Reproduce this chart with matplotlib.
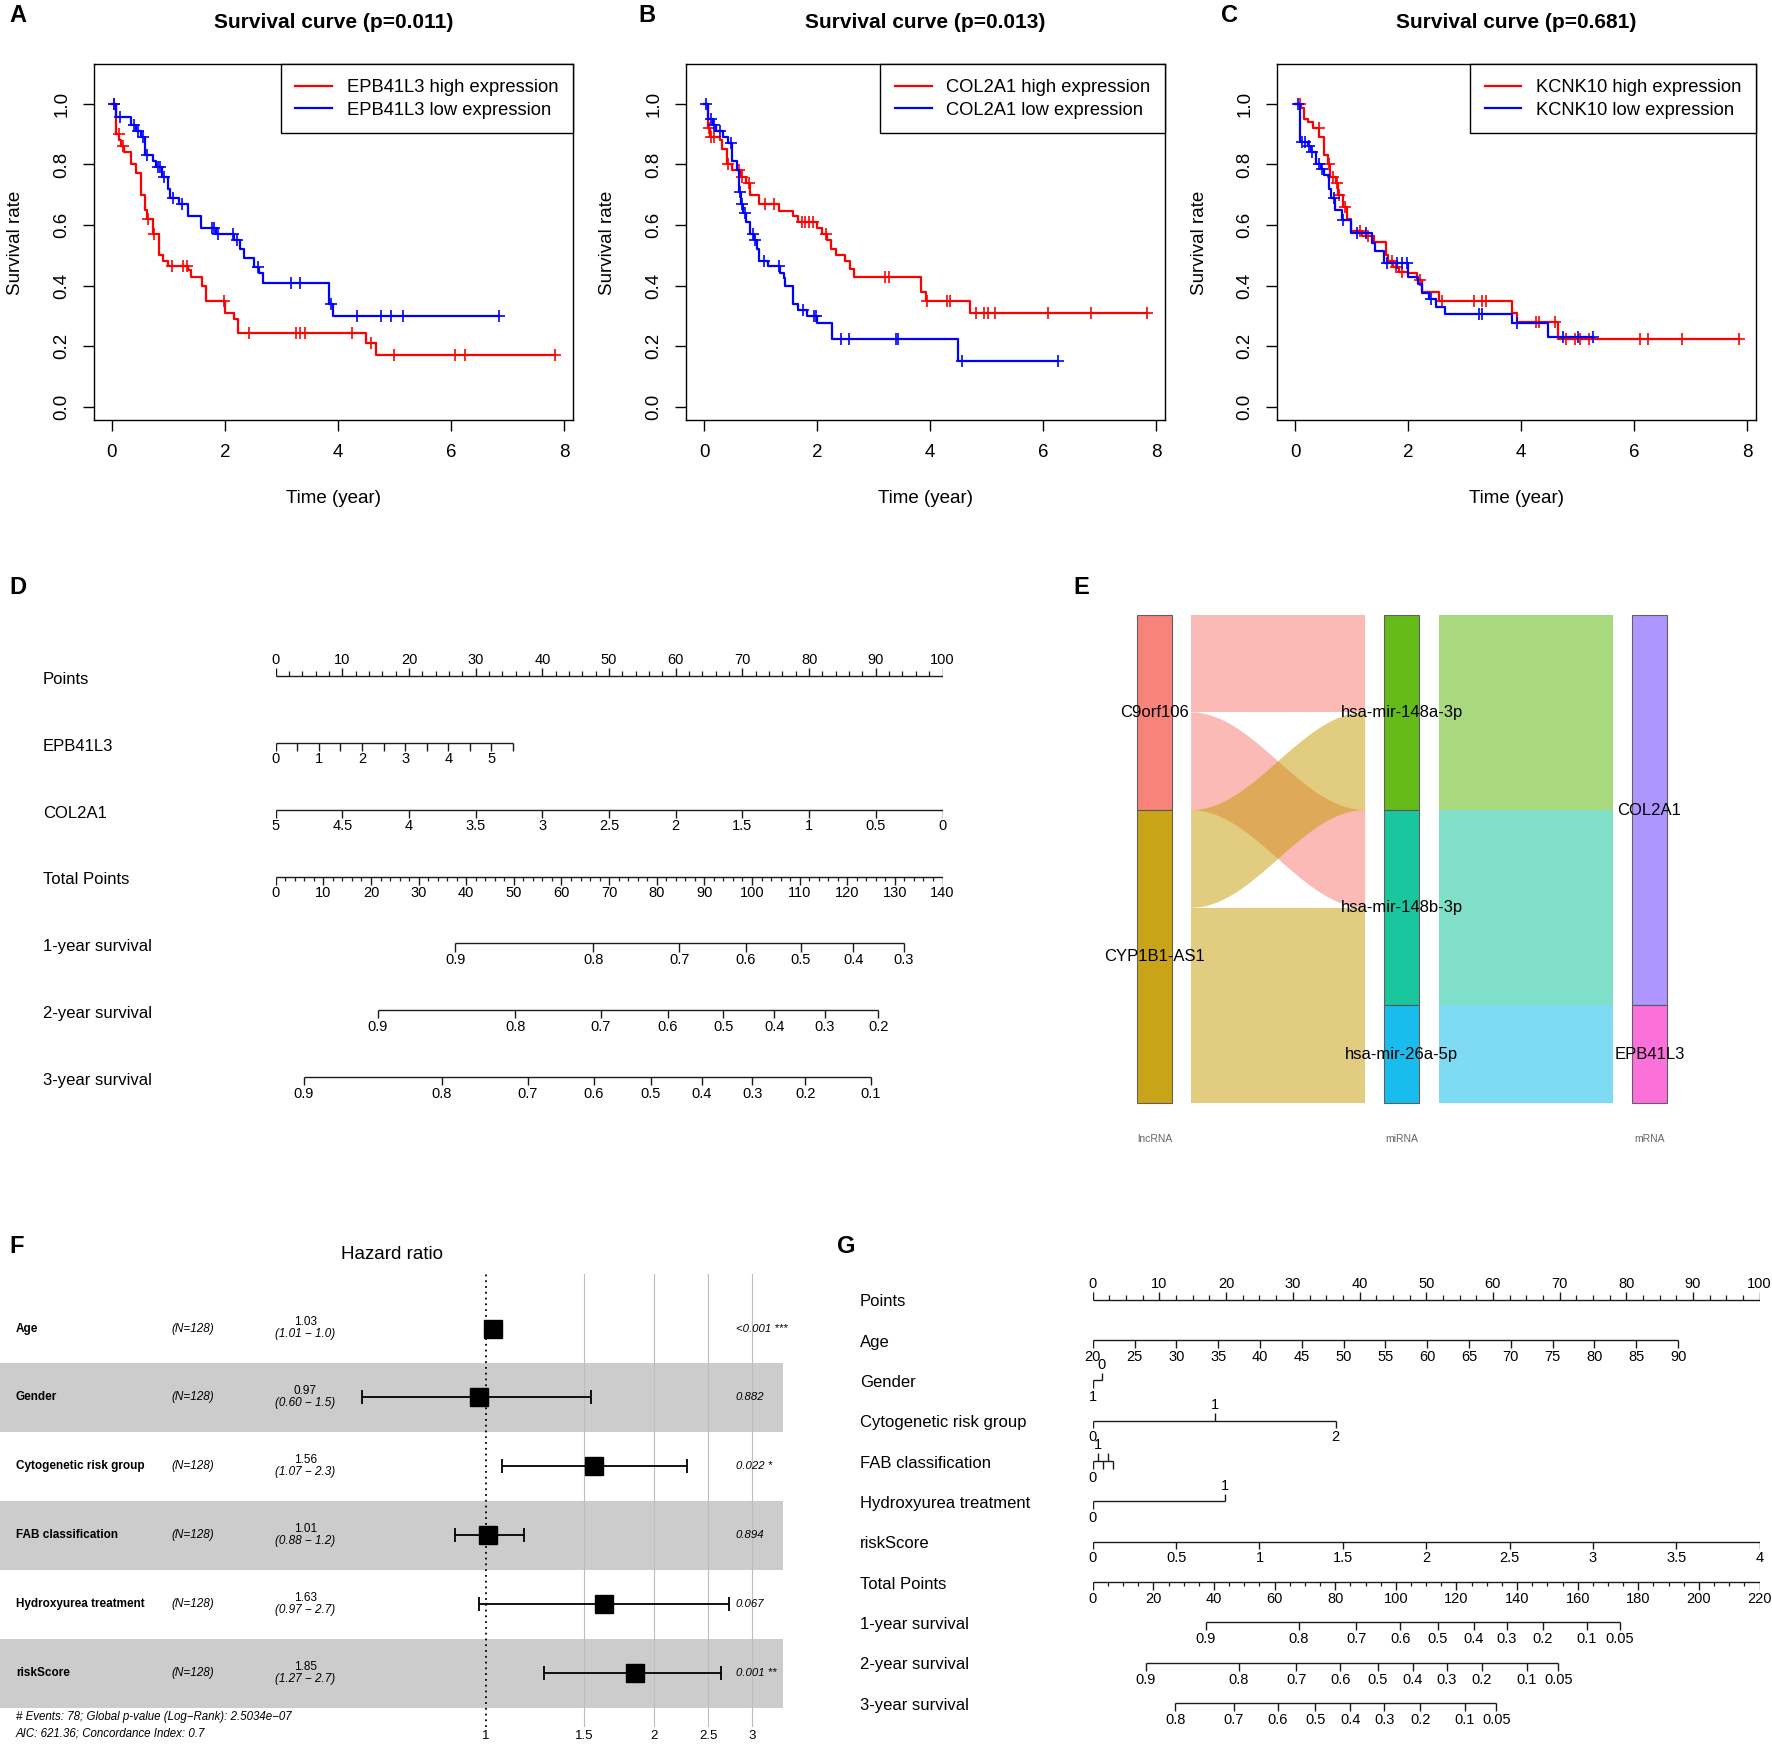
import numpy as np
import matplotlib.pyplot as plt
import matplotlib.transforms as mtransforms
from matplotlib.ticker import NullLocator, NullFormatter

plt.rcParams['font.family'] = ['Liberation Sans', 'DejaVu Sans']

# ---------------- survival curves (time in years, survival after each drop) ----------------
# A: EPB41L3
a_hi_t = [0, 0.07, 0.13, 0.17, 0.22, 0.34, 0.43, 0.51, 0.59, 0.63, 0.73, 0.83, 0.90, 0.99, 1.34, 1.40,
          1.59, 1.67, 2.00, 2.17, 2.24, 4.50, 4.67, 7.85]
a_hi_s = [1.0, 0.90, 0.88, 0.86, 0.84, 0.80, 0.77, 0.70, 0.65, 0.62, 0.57, 0.50, 0.48, 0.465, 0.45, 0.43,
          0.40, 0.35, 0.31, 0.29, 0.245, 0.21, 0.17, 0.17]
a_hi_c = [0.04, 0.12, 0.20, 0.64, 0.75, 1.07, 1.25, 1.33, 1.98, 2.42, 3.25, 3.33, 3.41, 4.25, 4.59,
          5.0, 6.08, 6.25, 7.85]
a_lo_t = [0, 0.07, 0.34, 0.43, 0.51, 0.59, 0.72, 0.78, 0.89, 1.00, 1.03, 1.19, 1.34, 1.58, 1.84, 2.17,
          2.26, 2.34, 2.52, 2.61, 2.67, 3.84, 3.91, 6.85]
a_lo_s = [1.0, 0.955, 0.93, 0.91, 0.89, 0.83, 0.81, 0.79, 0.76, 0.72, 0.69, 0.67, 0.63, 0.59, 0.57, 0.55,
          0.52, 0.49, 0.46, 0.44, 0.41, 0.34, 0.30, 0.30]
a_lo_c = [0.04, 0.14, 0.39, 0.46, 0.55, 0.62, 0.82, 0.86, 0.93, 1.08, 1.24, 1.77, 1.81, 1.88, 2.14,
          2.22, 2.59, 3.17, 3.33, 3.87, 4.34, 4.76, 4.94, 5.16, 6.85]

# B: COL2A1
b_hi_t = [0, 0.07, 0.10, 0.28, 0.31, 0.40, 0.49, 0.66, 0.75, 0.81, 0.98, 1.32, 1.58, 1.67, 2.00, 2.09,
          2.18, 2.25, 2.34, 2.50, 2.59, 2.65, 3.84, 3.93, 4.70, 7.84]
b_hi_s = [1.0, 0.92, 0.89, 0.88, 0.85, 0.80, 0.78, 0.76, 0.74, 0.70, 0.67, 0.645, 0.63, 0.61, 0.59, 0.57,
          0.55, 0.52, 0.50, 0.48, 0.455, 0.43, 0.38, 0.35, 0.31, 0.31]
b_hi_c = [0.09, 0.13, 0.17, 0.42, 0.62, 0.68, 0.79, 1.07, 1.23, 1.73, 1.79, 1.86, 1.92, 2.15, 3.21,
          3.27, 3.95, 4.30, 4.35, 4.82, 4.95, 5.02, 5.15, 6.09, 6.85, 7.84]
b_lo_t = [0, 0.07, 0.16, 0.22, 0.34, 0.43, 0.50, 0.58, 0.61, 0.66, 0.69, 0.75, 0.81, 0.88, 0.93, 0.98,
          1.14, 1.35, 1.41, 1.44, 1.58, 1.67, 1.82, 2.00, 2.26, 4.50, 6.27]
b_lo_s = [1.0, 0.95, 0.93, 0.91, 0.89, 0.87, 0.81, 0.78, 0.71, 0.67, 0.64, 0.61, 0.57, 0.55, 0.52, 0.48,
          0.465, 0.44, 0.425, 0.40, 0.34, 0.32, 0.30, 0.275, 0.225, 0.15, 0.15]
b_lo_c = [0.04, 0.12, 0.18, 0.28, 0.47, 0.64, 0.68, 0.72, 0.86, 0.90, 1.06, 1.33, 1.75, 1.95, 1.99,
          2.42, 2.57, 3.39, 3.43, 4.57, 6.27]

# C: KCNK10
c_hi_t = [0, 0.11, 0.155, 0.23, 0.32, 0.43, 0.51, 0.58, 0.61, 0.73, 0.76, 0.84, 0.91, 0.99, 1.18, 1.39,
          1.60, 1.65, 1.74, 1.83, 2.00, 2.16, 2.25, 2.55, 3.84, 3.92, 4.66, 7.85]
c_hi_s = [1.0, 0.985, 0.95, 0.94, 0.92, 0.89, 0.83, 0.80, 0.76, 0.74, 0.70, 0.66, 0.62, 0.58, 0.565, 0.545,
          0.50, 0.48, 0.46, 0.445, 0.44, 0.42, 0.38, 0.35, 0.31, 0.28, 0.225, 0.225]
c_hi_c = [0.08, 0.42, 0.60, 0.67, 0.74, 0.78, 0.88, 1.15, 1.29, 1.72, 1.78, 1.90, 2.21, 2.60, 3.17,
          3.30, 3.37, 4.26, 4.32, 4.60, 4.80, 4.95, 5.05, 5.20, 6.10, 6.25, 6.85, 7.85]
c_lo_t = [0, 0.08, 0.23, 0.29, 0.375, 0.46, 0.52, 0.60, 0.63, 0.70, 0.83, 0.99, 1.36, 1.42, 1.58, 2.00,
          2.18, 2.25, 2.37, 2.49, 2.65, 3.83, 4.48, 5.28]
c_lo_s = [1.0, 0.875, 0.86, 0.84, 0.80, 0.785, 0.765, 0.72, 0.69, 0.65, 0.615, 0.575, 0.54, 0.515, 0.475,
          0.43, 0.405, 0.375, 0.355, 0.33, 0.305, 0.275, 0.23, 0.23]
c_lo_c = [0.05, 0.13, 0.17, 0.24, 0.30, 0.43, 0.48, 0.68, 0.85, 1.10, 1.26, 1.62, 1.80, 1.90, 1.98,
          2.40, 3.25, 3.30, 3.92, 4.75, 5.00, 5.28]

km_genes = ['EPB41L3', 'COL2A1', 'KCNK10']
km_pvals = ['0.011', '0.013', '0.681']

# ---------------- nomogram D ----------------
d_epb_vals = [0, 0.5, 1, 1.5, 2, 2.5, 3, 3.5, 4, 4.5, 5, 5.5]
d_epb_pts_per_unit = 6.47
d_col_vals = [5, 4.5, 4, 3.5, 3, 2.5, 2, 1.5, 1, 0.5, 0]
d_col_pts_per_unit = 20.0
d_total_max = 140
d_surv1 = [0.9, 0.8, 0.7, 0.6, 0.5, 0.4, 0.3]
d_surv1_tp = [37.7, 66.7, 84.7, 98.7, 110.3, 121.3, 131.9]
d_surv2 = [0.9, 0.8, 0.7, 0.6, 0.5, 0.4, 0.3, 0.2]
d_surv2_tp = [21.4, 50.3, 68.3, 82.3, 94.0, 104.7, 115.3, 126.5]
d_surv3 = [0.9, 0.8, 0.7, 0.6, 0.5, 0.4, 0.3, 0.2, 0.1]
d_surv3_tp = [5.9, 34.9, 52.9, 66.8, 78.7, 89.4, 100.1, 111.2, 124.9]

# ---------------- sankey E ----------------
lnc_order = ['C9orf106', 'CYP1B1-AS1']
mir_order = ['hsa-mir-148a-3p', 'hsa-mir-148b-3p', 'hsa-mir-26a-5p']
mrna_order = ['COL2A1', 'EPB41L3']
link_lnc = ['C9orf106', 'C9orf106', 'CYP1B1-AS1', 'CYP1B1-AS1', 'CYP1B1-AS1']
link_mir = ['hsa-mir-148a-3p', 'hsa-mir-148b-3p', 'hsa-mir-148a-3p', 'hsa-mir-148b-3p', 'hsa-mir-26a-5p']
link_mrna = ['COL2A1', 'COL2A1', 'COL2A1', 'COL2A1', 'EPB41L3']
hue7 = ['#F8766D', '#C49A00', '#53B400', '#00C094', '#00B6EB', '#A58AFF', '#FB61D7']

# ---------------- forest F ----------------
f_vars = ['Age', 'Gender', 'Cytogenetic risk group', 'FAB classification', 'Hydroxyurea treatment', 'riskScore']
f_n = [128, 128, 128, 128, 128, 128]
f_hr = [1.03, 0.97, 1.56, 1.01, 1.63, 1.85]
f_lo = [1.01, 0.60, 1.07, 0.88, 0.97, 1.27]
f_hi = [1.05, 1.54, 2.29, 1.17, 2.72, 2.64]
f_ci_txt = ['(1.01 − 1.0)', '(0.60 − 1.5)', '(1.07 − 2.3)', '(0.88 − 1.2)', '(0.97 − 2.7)', '(1.27 − 2.7)']
f_p = ['<0.001 ***', '0.882', '0.022 *', '0.894', '0.067', '0.001 **']
f_events, f_global_p, f_aic, f_cindex = 78, '2.5034e−07', 621.36, 0.7

# ---------------- nomogram G ----------------
g_age_vals = [20, 25, 30, 35, 40, 45, 50, 55, 60, 65, 70, 75, 80, 85, 90]
g_age_pts_per_year = 1.254
g_gender_vals, g_gender_pts = [0, 1], [1.36, 0]
g_cyto_vals, g_cyto_pts = [0, 1, 2], [0, 18.3, 36.4]
g_fab_vals, g_fab_pts = [0, 1, 2, 3, 4], [0, 0.76, 1.52, 2.28, 3.04]
g_hu_vals, g_hu_pts = [0, 1], [0, 19.8]
g_risk_vals = [0, 0.5, 1, 1.5, 2, 2.5, 3, 3.5, 4]
g_risk_pts_per_unit = 25.0
g_total_max = 220
g_surv12 = [0.9, 0.8, 0.7, 0.6, 0.5, 0.4, 0.3, 0.2, 0.1, 0.05]
g_surv1_tp = [37.3, 67.9, 86.9, 101.4, 113.8, 125.7, 136.5, 148.5, 163.0, 173.8]
g_surv2_tp = [17.5, 48.1, 67.1, 81.7, 94.0, 105.6, 116.8, 128.3, 143.2, 153.6]
g_surv3 = [0.8, 0.7, 0.6, 0.5, 0.4, 0.3, 0.2, 0.1, 0.05]
g_surv3_tp = [27.2, 46.6, 61.1, 73.4, 85.0, 96.2, 108.1, 122.7, 133.1]

# ---------------- layout helpers ----------------
W, H = 1568.0, 1544.0
fig = plt.figure(figsize=(17.72, 17.45), dpi=100)


def frame(x0, y0, x1, y1):
    return [x0 / W, 1 - y1 / H, (x1 - x0) / W, (y1 - y0) / H]


def ftext(x, y, s, **kw):
    fig.text(x / W, 1 - y / H, s, **kw)


def lab(v):
    return f'{v:g}'


# ---------------- A, B, C: Kaplan-Meier ----------------
km_data = [((a_hi_t, a_hi_s, a_hi_c), (a_lo_t, a_lo_s, a_lo_c)),
           ((b_hi_t, b_hi_s, b_hi_c), (b_lo_t, b_lo_s, b_lo_c)),
           ((c_hi_t, c_hi_s, c_hi_c), (c_lo_t, c_lo_s, c_lo_c))]
km_left = [83, 607, 1130]
letters_x = [8, 565, 1080]

for i in range(3):
    ax = fig.add_axes(frame(km_left[i], 57, km_left[i] + 424, 372))
    for (t, s, cens), col, word in zip(km_data[i], ['red', 'blue'], ['high', 'low']):
        ax.step(t, s, where='post', color=col, lw=1.6, label=f'{km_genes[i]} {word} expression')
        ta = np.array(t)
        cs = [s[np.searchsorted(ta, c, side='right') - 1] for c in cens]
        ax.plot(cens, cs, ls='none', marker='+', color=col, ms=9, mew=1.2)
    ax.set_xlim(-0.32, 8.16)
    ax.set_ylim(-0.045, 1.13)
    ax.set_xticks([0, 2, 4, 6, 8])
    ax.set_yticks([0, 0.2, 0.4, 0.6, 0.8, 1.0])
    ax.set_yticklabels(['0.0', '0.2', '0.4', '0.6', '0.8', '1.0'])
    ax.tick_params(length=8, width=1, pad=9, labelsize=13.5, direction='out')
    ax.tick_params(axis='y', labelrotation=90)
    for t in ax.get_yticklabels():
        t.set_va('center')
    for sp in ax.spines.values():
        sp.set_linewidth(1.0)
    ax.set_xlabel('Time (year)', fontsize=13.5)
    ax.set_ylabel('Survival rate', fontsize=13.5)
    ax.xaxis.set_label_coords(0.5, -0.195)
    ax.yaxis.set_label_coords(-0.145, 0.5)
    ax.set_title(f'Survival curve (p={km_pvals[i]})', fontsize=15, fontweight='bold', pad=26)
    leg = ax.legend(loc='upper right', fancybox=False, edgecolor='black', framealpha=1, borderaxespad=0,
                    fontsize=13.2, handlelength=2.0, handletextpad=0.8, labelspacing=0.3, borderpad=0.8)
    leg.get_frame().set_linewidth(1.0)
    ftext(letters_x[i], 14, 'ABC'[i], fontsize=17, fontweight='bold', va='center')


# ---------------- nomogram helper ----------------
def scale_row(ax, r, xs, labels, sides, tick, fs=10.5, minor=(), below=12.0, above=11.4):
    xs = list(xs)
    if np.isscalar(sides):
        sides = [sides] * len(xs)
    allx = xs + list(minor)
    ax.plot([min(allx), max(allx)], [r, r], color='#1a1a1a', lw=1.0, solid_capstyle='butt')
    ax.vlines(xs, r, r + np.array(sides) * tick, color='#1a1a1a', lw=1.0)
    if len(minor):
        ax.vlines(list(minor), r, r + sides[0] * tick * 0.55, color='#1a1a1a', lw=0.9)
    for x, l, sd in zip(xs, labels, sides):
        if l:
            ax.annotate(l, (x, r), xytext=(0, -below if sd > 0 else above), textcoords='offset points',
                        ha='center', va='center', fontsize=fs)


def row_names(ax, names, xfrac, fs=12, dy=0.0):
    tr = mtransforms.blended_transform_factory(ax.transAxes, ax.transData)
    for r, n in enumerate(names):
        ax.text(xfrac, r + dy, n, transform=tr, ha='left', va='center', fontsize=fs)


# ---------------- D ----------------
axd = fig.add_axes(frame(244, 560, 834, 990))
axd.set_xlim(0, 100)
axd.set_ylim((990 - 598) / 59.2, (560 - 598) / 59.2)
axd.axis('off')
tk = 0.12
pts_major = list(range(0, 101, 10))
scale_row(axd, 0, pts_major, [lab(v) for v in pts_major], -1, tk,
          minor=[v for v in range(0, 101, 2) if v % 10])
scale_row(axd, 1, [v * d_epb_pts_per_unit for v in d_epb_vals],
          [lab(v) if v == int(v) else '' for v in d_epb_vals], 1, tk)
scale_row(axd, 2, [(5 - v) * d_col_pts_per_unit for v in d_col_vals], [lab(v) for v in d_col_vals], 1, tk)
tot_major = list(range(0, d_total_max + 1, 10))
scale_row(axd, 3, [v * 100 / d_total_max for v in tot_major], [lab(v) for v in tot_major], 1, tk,
          minor=[v * 100 / d_total_max for v in range(0, d_total_max + 1, 2) if v % 10])
for r, (sv, tp) in enumerate([(d_surv1, d_surv1_tp), (d_surv2, d_surv2_tp), (d_surv3, d_surv3_tp)]):
    scale_row(axd, 4 + r, [v * 100 / d_total_max for v in tp], [lab(v) for v in sv], 1, tk)
row_names(axd, ['Points', 'EPB41L3', 'COL2A1', 'Total Points', '1-year survival', '2-year survival',
                '3-year survival'], (38 - 244) / 590, dy=0.05)
ftext(8, 520, 'D', fontsize=17, fontweight='bold', va='center')

# ---------------- E: sankey ----------------
axe = fig.add_axes(frame(980, 530, 1510, 1020))
axe.set_xlim(1 - 41.5 / 219, 3 + 50.5 / 219)
axe.set_ylim(5 + 44 / 86.4, -14 / 86.4)
axe.axis('off')
bw = 15.5 / 219
gap = 32.5 / 219


def stacks(prim, prim_order, sec, sec_order):
    idx = sorted(range(len(prim)), key=lambda i: (prim_order.index(prim[i]), sec_order.index(sec[i]), i))
    tops = [0] * len(prim)
    for k, i in enumerate(idx):
        tops[i] = k
    return tops


def flow(x0, x1, y0, y1, color):
    tt = np.linspace(0, 1, 80)
    f = (1 - np.cos(np.pi * tt)) / 2
    top = y0 + (y1 - y0) * f
    axe.fill_between(x0 + (x1 - x0) * tt, top, top + 1, color=color, alpha=0.5, lw=0, edgecolor='none')


cols = [(link_lnc, lnc_order, hue7[0:2]), (link_mir, mir_order, hue7[2:5]), (link_mrna, mrna_order, hue7[5:7])]
# flows lncRNA -> miRNA, coloured by lncRNA
lt = stacks(link_lnc, lnc_order, link_mir, mir_order)
rt = stacks(link_mir, mir_order, link_lnc, lnc_order)
for i in range(len(link_lnc)):
    flow(1 + gap, 2 - gap, lt[i], rt[i], hue7[lnc_order.index(link_lnc[i])])
# flows miRNA -> mRNA, coloured by miRNA
lt = stacks(link_mir, mir_order, link_mrna, mrna_order)
rt = stacks(link_mrna, mrna_order, link_mir, mir_order)
for i in range(len(link_mir)):
    flow(2 + gap, 3 - gap, lt[i], rt[i], hue7[2 + mir_order.index(link_mir[i])])
# strata
for c, (keys, order, colors) in enumerate(cols):
    y = 0
    for name, colr in zip(order, colors):
        n = keys.count(name)
        axe.bar(c + 1, n, bottom=y, width=2 * bw, color=colr, alpha=0.9, edgecolor='#555555', lw=0.8)
        axe.text(c + 1, y + n / 2, name, ha='center', va='center', fontsize=12)
        y += n
for c, name in enumerate(['lncRNA', 'miRNA', 'mRNA']):
    axe.text(c + 1, 5 + 32 / 86.4, name, ha='center', va='center', fontsize=7.5, color='#666666')
ftext(950, 520, 'E', fontsize=17, fontweight='bold', va='center')

# ---------------- F: forest ----------------
axf = fig.add_axes(frame(0, 1127, 693, 1528))
axf.set_xscale('log')
axf.set_xlim(np.exp(-430 / 214.6), np.exp(263 / 214.6))
axf.set_ylim(5.5 + 17 / 61, -0.5 - 18 / 61)
for sp in axf.spines.values():
    sp.set_visible(False)
rows = np.arange(len(f_vars))
for r in rows[1::2]:
    axf.axhspan(r - 0.5, r + 0.5, color='#CCCCCC', lw=0, zorder=0)
for g in [1.5, 2, 2.5, 3]:
    axf.axvline(g, color='#BDBDBD', lw=0.8, zorder=1)
axf.axvline(1, color='black', lw=1.3, ls=(0, (1, 2.2)), zorder=2)
hr = np.array(f_hr)
axf.errorbar(hr, rows, xerr=[hr - np.array(f_lo), np.array(f_hi) - hr], fmt='none', ecolor='black',
             elinewidth=1.3, capsize=5, capthick=1.3, zorder=3)
axf.plot(hr, rows, 's', color='black', ms=12.5, zorder=4)
axf.set_yticks([])
axf.xaxis.set_minor_locator(NullLocator())
axf.xaxis.set_minor_formatter(NullFormatter())
axf.set_xticks([1, 1.5, 2, 2.5, 3])
axf.set_xticklabels(['1', '1.5', '2', '2.5', '3'])
axf.tick_params(axis='x', length=0, pad=2, labelsize=9.5)
trf = mtransforms.blended_transform_factory(axf.transAxes, axf.transData)
for r in rows:
    axf.text(14 / 693, r, f_vars[r], transform=trf, ha='left', va='center', fontsize=8.5, fontweight='bold')
    axf.text(152 / 693, r, f'(N={f_n[r]})', transform=trf, ha='left', va='center', fontsize=8.5,
             style='italic')
    axf.text(270 / 693, r - 0.09, f'{f_hr[r]:.2f}', transform=trf, ha='center', va='center', fontsize=8.5)
    axf.text(270 / 693, r + 0.08, f_ci_txt[r], transform=trf, ha='center', va='center', fontsize=8.5,
             style='italic')
    axf.text(651 / 693, r, f_p[r], transform=trf, ha='left', va='center', fontsize=8.2, style='italic')
axf.text(0.5, 1 + 17 / 401, 'Hazard ratio', transform=axf.transAxes, ha='center', va='center', fontsize=13.5)
ftext(14, 1519, f'# Events: {f_events}; Global p-value (Log−Rank): {f_global_p}', fontsize=8.3,
      style='italic', va='center')
ftext(14, 1534, f'AIC: {f_aic}; Concordance Index: {f_cindex}', fontsize=8.3, style='italic', va='center')
ftext(8, 1103, 'F', fontsize=17, fontweight='bold', va='center')

# ---------------- G ----------------
axg = fig.add_axes(frame(967, 1120, 1557, 1530))
axg.set_xlim(0, 100)
axg.set_ylim((1530 - 1150) / 35.7, (1120 - 1150) / 35.7)
axg.axis('off')
tg = 0.19
scale_row(axg, 0, pts_major, [lab(v) for v in pts_major], -1, tg,
          minor=[v / 2 for v in range(0, 201, 5) if v % 20])
scale_row(axg, 1, [(v - 20) * g_age_pts_per_year for v in g_age_vals], [lab(v) for v in g_age_vals], 1, tg)
scale_row(axg, 2, g_gender_pts, [lab(v) for v in g_gender_vals], [-1, 1], tg)
scale_row(axg, 3, g_cyto_pts, [lab(v) for v in g_cyto_vals], [1, -1, 1], tg)
scale_row(axg, 4, g_fab_pts, ['0', '1', '', '', ''], [1, -1, 1, -1, 1], tg)
scale_row(axg, 5, g_hu_pts, [lab(v) for v in g_hu_vals], [1, -1], tg)
scale_row(axg, 6, [v * g_risk_pts_per_unit for v in g_risk_vals], [lab(v) for v in g_risk_vals], 1, tg)
g_tot = list(range(0, g_total_max + 1, 20))
scale_row(axg, 7, [v * 100 / g_total_max for v in g_tot], [lab(v) for v in g_tot], 1, tg,
          minor=[v * 100 / g_total_max for v in range(0, g_total_max + 1, 5) if v % 20])
for r, (sv, tp) in enumerate([(g_surv12, g_surv1_tp), (g_surv12, g_surv2_tp), (g_surv3, g_surv3_tp)]):
    scale_row(axg, 8 + r, [v * 100 / g_total_max for v in tp], [lab(v) for v in sv], 1, tg)
row_names(axg, ['Points', 'Age', 'Gender', 'Cytogenetic risk group', 'FAB classification',
                'Hydroxyurea treatment', 'riskScore', 'Total Points', '1-year survival', '2-year survival',
                '3-year survival'], (761 - 967) / 590, dy=0.05)
ftext(741, 1103, 'G', fontsize=17, fontweight='bold', va='center')

fig.savefig('out.png', dpi=100)
